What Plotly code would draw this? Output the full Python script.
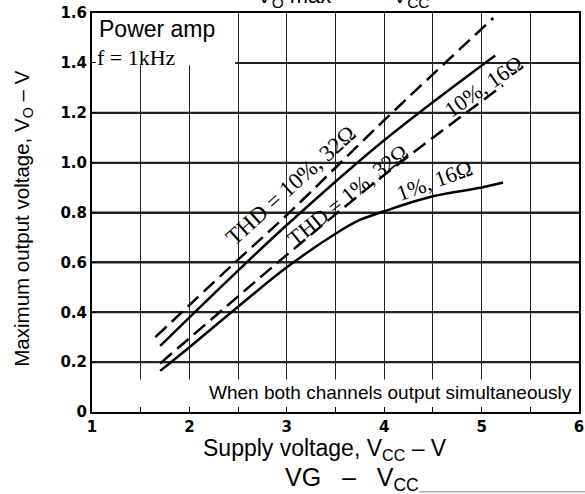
import plotly.graph_objects as go

# Curve data (supply voltage V, output voltage V)
x_10pct_32 = [1.65, 2.4, 3.0, 4.0, 5.12]
y_10pct_32 = [0.30, 0.575, 0.79, 1.17, 1.58]

x_10pct_16 = [1.70, 2.4, 3.0, 4.0, 5.14]
y_10pct_16 = [0.265, 0.53, 0.75, 1.09, 1.43]

x_1pct_32 = [1.70, 2.4, 3.0, 4.0, 5.22]
y_1pct_32 = [0.195, 0.43, 0.63, 0.95, 1.31]

x_1pct_16 = [1.70, 2.0, 2.4, 3.0, 3.5, 3.75, 4.0, 4.5, 5.0, 5.22]
y_1pct_16 = [0.165, 0.26, 0.39, 0.58, 0.715, 0.77, 0.805, 0.865, 0.90, 0.92]

x_ticks = [1, 1.5, 2, 2.5, 3, 3.5, 4, 4.5, 5, 5.5, 6]
x_ticktext = ["1", "", "2", "", "3", "", "4", "", "5", "", "6"]
y_ticks = [0, 0.2, 0.4, 0.6, 0.8, 1.0, 1.2, 1.4, 1.6]
y_ticktext = ["0", "0.2", "0.4", "0.6", "0.8", "1.0", "1.2", "1.4", "1.6"]

# white boxes behind the captions (they hide the grid)
legend_box_x = [1, 2.47, 2.47, 1, 1]
legend_box_y = [1.39, 1.39, 1.6, 1.6, 1.39]
note_box_x = [1, 6, 6, 1, 1]
note_box_y = [0, 0, 0.13, 0.13, 0]

SERIF = "Liberation Serif, DejaVu Serif, serif"
SANS = "Liberation Sans, Arial, sans-serif"

fig = go.Figure()

# horizontal grid lines, drawn under everything else
for yv in y_ticks[1:-1]:
    fig.add_shape(type="line", xref="paper", yref="y", x0=0, x1=1, y0=yv, y1=yv,
                  line=dict(color="#222", width=2), layer="below")

for bx, by in [(legend_box_x, legend_box_y), (note_box_x, note_box_y)]:
    fig.add_trace(go.Scatter(x=bx, y=by, mode="lines", fill="toself", fillcolor="white",
                             line=dict(width=0, color="white"), hoverinfo="skip"))

dash_style = "15px,7px"
fig.add_trace(go.Scatter(x=x_10pct_32, y=y_10pct_32, mode="lines", line_shape="spline",
                         line=dict(color="black", width=2.5, dash=dash_style)))
fig.add_trace(go.Scatter(x=x_10pct_16, y=y_10pct_16, mode="lines", line_shape="spline",
                         line=dict(color="black", width=2.5)))
fig.add_trace(go.Scatter(x=x_1pct_32, y=y_1pct_32, mode="lines", line_shape="spline",
                         line=dict(color="black", width=2.5, dash=dash_style)))
fig.add_trace(go.Scatter(x=x_1pct_16, y=y_1pct_16, mode="lines", line_shape="spline",
                         line=dict(color="black", width=2.5)))

# curve labels
curve_labels = [
    ("THD = 10%, 32Ω", 3.04, 0.91, -42, 23),
    ("THD = 1%, 32Ω", 3.62, 0.87, -39, 22),
    ("10%, 16Ω", 5.02, 1.305, -35, 22),
    ("1%, 16Ω", 4.52, 0.93, -20, 22),
]
for txt, lx, ly, ang, sz in curve_labels:
    fig.add_annotation(x=lx, y=ly, text=txt, showarrow=False, textangle=ang,
                       font=dict(family=SERIF, size=sz, color="black"))

fig.add_annotation(x=1.05, y=1.534, xanchor="left", yanchor="middle", text="Power amp",
                   showarrow=False, font=dict(family=SANS, size=23, color="black"))
fig.add_annotation(x=1.03, y=1.42, xanchor="left", yanchor="middle", text="f = 1kHz",
                   showarrow=False, font=dict(family=SERIF, size=22, color="black"))
fig.add_annotation(x=5.95, y=0.08, xanchor="right", yanchor="middle",
                   text="When both channels output simultaneously",
                   showarrow=False, font=dict(family=SANS, size=19, color="black"))

# axis titles and captions
fig.add_annotation(xref="paper", yref="paper", x=-0.142, y=0.484, xanchor="center",
                   yanchor="middle", textangle=-90,
                   text="Maximum output voltage, V<sub>O</sub> – V", showarrow=False,
                   font=dict(family=SANS, size=20.5, color="black"))
fig.add_annotation(xref="paper", yref="paper", x=0.478, y=-0.095, xanchor="center",
                   yanchor="middle", text="Supply voltage, V<sub>CC</sub> – V", showarrow=False,
                   font=dict(family=SANS, size=23, color="black"))
fig.add_annotation(xref="paper", yref="paper", x=0.533, y=-0.168, xanchor="center",
                   yanchor="middle", text="VG   –   V<sub>CC</sub>", showarrow=False,
                   font=dict(family=SANS, size=25, color="black"))
fig.add_annotation(xref="paper", yref="paper", x=0.516, y=1.0, xanchor="center",
                   yanchor="bottom", text="V<sub>O</sub> max    –    V<sub>CC</sub>",
                   showarrow=False, font=dict(family=SANS, size=22, color="black"))

# faint rule at the very bottom of the page
fig.add_shape(type="line", xref="paper", yref="paper", x0=0.673, x1=1.02,
              y0=-0.2, y1=-0.2, line=dict(color="#aaa", width=1.5))

tick_font = dict(family="DejaVu Sans", size=15, color="black", weight="bold")
fig.update_xaxes(range=[1, 6], tickvals=x_ticks, ticktext=x_ticktext,
                 showgrid=True, gridcolor="#222", gridwidth=1,
                 showline=True, linecolor="black", linewidth=2, mirror=True,
                 ticks="inside", ticklen=5, tickcolor="black",
                 tickfont=tick_font, ticklabeloverflow="allow", zeroline=False)
fig.update_yaxes(range=[0, 1.6], tickvals=y_ticks, ticktext=y_ticktext,
                 showgrid=True, gridcolor="#222", gridwidth=2,
                 showline=True, linecolor="black", linewidth=2, mirror=True,
                 ticks="inside", ticklen=4, tickcolor="black",
                 tickfont=tick_font, ticklabeloverflow="allow", zeroline=False)

fig.update_layout(width=585, height=494, showlegend=False,
                  margin=dict(l=92, r=1, t=13, b=82),
                  paper_bgcolor="white", plot_bgcolor="white")

# drop the browser's default body margin so the figure fills the window exactly
fig.write_html("out.html", config={"displayModeBar": False},
               post_script="document.body.style.margin='0';")
